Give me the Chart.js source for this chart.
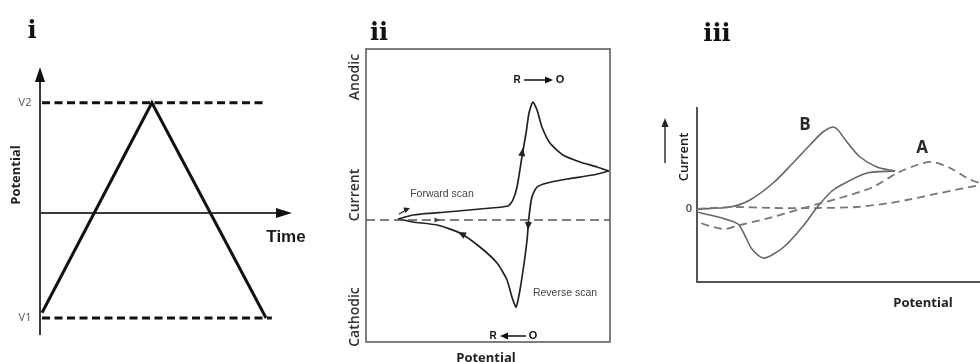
<!DOCTYPE html>
<html>
<head>
<meta charset="utf-8">
<script src="https://cdn.jsdelivr.net/npm/chart.js@4/dist/chart.umd.min.js"></script>
<style>
  html, body { margin: 0; padding: 0; background: #fff; width: 980px; height: 362px; overflow: hidden; }
  canvas { position: absolute; top: 0; }
</style>
</head>
<body>
<canvas id="chartI" width="320" height="362" style="left:0"></canvas>
<canvas id="chartII" width="330" height="362" style="left:320px"></canvas>
<canvas id="chartIII" width="330" height="362" style="left:650px"></canvas>
<script>
// panel i : triangular potential sweep
var sweepTime = [0.008, 0.444, 0.897];
var sweepPotential = [-0.95, 1.05, -1.0];
var limitLabels = ['V1', 'V2'];
var limitPotential = [-1.0, 1.05];
var limitStart = [0.008, 0.008];
var limitEnd = [0.92, 0.893];

// panel ii : cyclic voltammogram
var cvForwardPotential = [0.131, 0.193, 0.332, 0.467, 0.582, 0.602, 0.619, 0.639, 0.656, 0.668, 0.684, 0.701, 0.721, 0.754, 0.807, 0.877, 0.947, 0.996];
var cvForwardCurrent   = [0.01, 0.05, 0.08, 0.11, 0.14, 0.20, 0.33, 0.63, 0.87, 1.07, 1.18, 1.10, 0.93, 0.77, 0.65, 0.58, 0.53, 0.49];
var cvReversePotential = [0.996, 0.930, 0.824, 0.742, 0.701, 0.680, 0.668, 0.660, 0.648, 0.631, 0.615, 0.598, 0.578, 0.537, 0.467, 0.385, 0.291, 0.193, 0.131];
var cvReverseCurrent   = [0.49, 0.45, 0.41, 0.37, 0.33, 0.23, 0.03, -0.20, -0.43, -0.70, -0.87, -0.77, -0.60, -0.43, -0.27, -0.13, -0.05, -0.02, 0.01];
var baselinePotential = [0, 1];
var baselineCurrent = [0, 0];

// panel iii : curves A (dashed) and B (solid)
var bForwardPotential = [0, 0.117, 0.187, 0.269, 0.339, 0.399, 0.445, 0.481, 0.498, 0.530, 0.576, 0.636, 0.700];
var bForwardCurrent   = [0, 0.02, 0.09, 0.26, 0.46, 0.64, 0.77, 0.82, 0.79, 0.67, 0.52, 0.42, 0.38];
var bReversePotential = [0.700, 0.601, 0.530, 0.477, 0.428, 0.375, 0.311, 0.265, 0.233, 0.194, 0.170, 0.145, 0.099, 0.046, 0];
var bReverseCurrent   = [0.38, 0.36, 0.27, 0.18, 0.03, -0.17, -0.37, -0.46, -0.49, -0.40, -0.27, -0.15, -0.10, -0.06, -0.03];
var aForwardPotential = [0, 0.127, 0.269, 0.424, 0.565, 0.682, 0.742, 0.859, 1.0, 1.04];
var aForwardCurrent   = [0, 0.02, 0.01, 0.01, 0.02, 0.06, 0.09, 0.16, 0.24, 0.26];
var aReversePotential = [1.04, 1.0, 0.954, 0.894, 0.830, 0.777, 0.707, 0.622, 0.505, 0.389, 0.269, 0.152, 0.092, 0];
var aReverseCurrent   = [0.26, 0.26, 0.31, 0.41, 0.47, 0.44, 0.36, 0.22, 0.11, 0.02, -0.08, -0.16, -0.20, -0.13];

function pts(xs, ys) {
  return xs.map(function (x, i) { return { x: x, y: ys[i] }; });
}

function lineSet(data, color, width, dash, tension) {
  return {
    data: data, showLine: true, pointRadius: 0, borderColor: color,
    borderWidth: width, borderDash: dash || [], tension: tension || 0
  };
}

function baseOptions(padding, xRange, yRange) {
  return {
    responsive: false,
    animation: false,
    devicePixelRatio: 1,
    layout: { padding: padding },
    scales: {
      x: { type: 'linear', display: false, min: xRange[0], max: xRange[1] },
      y: { type: 'linear', display: false, min: yRange[0], max: yRange[1] }
    },
    plugins: { legend: { display: false }, tooltip: { enabled: false } }
  };
}

function seg(ctx, x1, y1, x2, y2) {
  ctx.beginPath(); ctx.moveTo(x1, y1); ctx.lineTo(x2, y2); ctx.stroke();
}

function arrowHead(ctx, x, y, angle, len, half, color) {
  ctx.save();
  ctx.translate(x, y); ctx.rotate(angle);
  ctx.fillStyle = color;
  ctx.beginPath(); ctx.moveTo(0, 0); ctx.lineTo(-len, -half); ctx.lineTo(-len, half); ctx.closePath();
  ctx.fill();
  ctx.restore();
}

function text(ctx, str, x, y, font, color, rot) {
  ctx.save();
  ctx.font = font; ctx.fillStyle = color;
  ctx.textAlign = 'center'; ctx.textBaseline = 'middle';
  ctx.translate(x, y);
  if (rot) ctx.rotate(rot);
  ctx.fillText(str, 0, 0);
  ctx.restore();
}

function panelLabel(ctx, str, x, y) {
  ctx.save();
  ctx.font = 'bold 24px "DejaVu Serif"'; ctx.fillStyle = '#111';
  ctx.textAlign = 'center'; ctx.textBaseline = 'alphabetic';
  ctx.fillText(str, x, y);
  ctx.restore();
}

// ---------- panel i ----------
var decorI = {
  id: 'decorI',
  beforeDatasetsDraw: function (chart) {
    var ctx = chart.ctx, a = chart.chartArea, x = chart.scales.x, y = chart.scales.y;
    var x0 = x.getPixelForValue(0), y0 = y.getPixelForValue(0);
    ctx.save();
    ctx.strokeStyle = '#3a3a3a'; ctx.lineWidth = 2;
    seg(ctx, x0, a.bottom, x0, a.top + 10);
    arrowHead(ctx, x0, a.top, -Math.PI / 2, 15, 5, '#111');
    seg(ctx, x0, y0, a.right - 10, y0);
    arrowHead(ctx, a.right, y0, 0, 16, 5, '#111');
    ctx.restore();
  },
  afterDraw: function (chart) {
    var ctx = chart.ctx, y = chart.scales.y;
    limitLabels.forEach(function (l, i) {
      text(ctx, l, 25, y.getPixelForValue(limitPotential[i]), '11px "Open Sans"', '#555');
    });
    text(ctx, 'Potential', 16, 175, 'bold 13px "Open Sans"', '#222', -Math.PI / 2);
    text(ctx, 'Time', 286, 237, 'bold 17px "Liberation Sans"', '#1a1a1a');
    panelLabel(ctx, 'i', 32, 38);
  }
};

var dsI = [lineSet(pts(sweepTime, sweepPotential), '#111', 3)];
limitPotential.forEach(function (v, i) {
  dsI.push(lineSet(pts([limitStart[i], limitEnd[i]], [v, v]), '#111', 3, [8, 4.5]));
});

new Chart(document.getElementById('chartI'), {
  type: 'scatter',
  data: { datasets: dsI },
  options: baseOptions({ left: 40, right: 28, top: 67, bottom: 27 }, [0, 1], [-1.162, 1.39]),
  plugins: [decorI]
});

// ---------- panel ii ----------
var decorII = {
  id: 'decorII',
  beforeDatasetsDraw: function (chart) {
    var ctx = chart.ctx, a = chart.chartArea;
    ctx.save();
    ctx.strokeStyle = '#555'; ctx.lineWidth = 1.5;
    ctx.strokeRect(a.left, a.top, a.right - a.left, a.bottom - a.top);
    ctx.restore();
  },
  afterDraw: function (chart) {
    var ctx = chart.ctx, x = chart.scales.x, y = chart.scales.y;
    var px = function (v) { return x.getPixelForValue(v); };
    var py = function (v) { return y.getPixelForValue(v); };
    // direction arrows on the curve
    arrowHead(ctx, px(0.643), py(0.72), -Math.PI / 2 + 0.15, 8, 3.5, '#222');
    arrowHead(ctx, px(0.664), py(-0.10), Math.PI / 2 + 0.05, 8, 3.5, '#222');
    arrowHead(ctx, px(0.377), py(-0.12), Math.atan2(-22, -43), 8, 3.5, '#222');
    ctx.save();
    ctx.strokeStyle = '#222'; ctx.lineWidth = 1.2;
    seg(ctx, px(0.135), py(0.06), px(0.165), py(0.10));
    ctx.restore();
    arrowHead(ctx, px(0.180), py(0.12), Math.atan2(-5, 12), 6, 3, '#222');
    arrowHead(ctx, px(0.305), py(0.0), 0, 6, 2.5, '#444');

    // R -> O and R <- O
    ctx.save();
    ctx.strokeStyle = '#111'; ctx.lineWidth = 1.5;
    text(ctx, 'R', 197, 80, 'bold 10px "Liberation Sans"', '#111');
    seg(ctx, 204, 80, 226, 80);
    arrowHead(ctx, 233, 80, 0, 8, 3.5, '#111');
    text(ctx, 'O', 240, 80, 'bold 11px "Liberation Sans"', '#111');
    text(ctx, 'R', 173, 336, 'bold 10px "Liberation Sans"', '#111');
    arrowHead(ctx, 180, 336, Math.PI, 8, 3.5, '#111');
    seg(ctx, 187, 336, 206, 336);
    text(ctx, 'O', 213, 336, 'bold 11px "Liberation Sans"', '#111');
    ctx.restore();

    text(ctx, 'Forward scan', 122, 194, '10.5px "Liberation Sans"', '#444');
    text(ctx, 'Reverse scan', 245, 293, '10.5px "Liberation Sans"', '#444');
    text(ctx, 'Anodic', 35, 77, '600 14px "Open Sans"', '#333', -Math.PI / 2);
    text(ctx, 'Current', 35, 195, '600 14px "Open Sans"', '#333', -Math.PI / 2);
    text(ctx, 'Cathodic', 35, 317, '600 14px "Open Sans"', '#333', -Math.PI / 2);
    text(ctx, 'Potential', 166, 358, 'bold 13px "Open Sans"', '#222');
    panelLabel(ctx, 'ii', 59, 40);
  }
};

new Chart(document.getElementById('chartII'), {
  type: 'scatter',
  data: {
    datasets: [
      lineSet(pts(baselinePotential, baselineCurrent), '#555', 1.5, [9, 5]),
      lineSet(pts(cvForwardPotential, cvForwardCurrent), '#222', 1.7, null, 0.2),
      lineSet(pts(cvReversePotential, cvReverseCurrent), '#222', 1.7, null, 0.2)
    ]
  },
  options: baseOptions({ left: 46, right: 40, top: 49, bottom: 20 }, [0, 1], [-1.22, 1.71]),
  plugins: [decorII]
});

// ---------- panel iii ----------
var decorIII = {
  id: 'decorIII',
  beforeDatasetsDraw: function (chart) {
    var ctx = chart.ctx, a = chart.chartArea;
    ctx.save();
    ctx.strokeStyle = '#555'; ctx.lineWidth = 2;
    ctx.beginPath();
    ctx.moveTo(a.left, a.top); ctx.lineTo(a.left, a.bottom); ctx.lineTo(a.right, a.bottom);
    ctx.stroke();
    ctx.strokeStyle = '#333'; ctx.lineWidth = 1.5;
    seg(ctx, 15, 163, 15, 125);
    arrowHead(ctx, 15, 118, -Math.PI / 2, 9, 3.5, '#222');
    ctx.restore();
  },
  afterDraw: function (chart) {
    var ctx = chart.ctx, y = chart.scales.y;
    text(ctx, 'Current', 34, 157, '600 13px "Open Sans"', '#222', -Math.PI / 2);
    text(ctx, '0', 39, y.getPixelForValue(0), '600 11px "Open Sans"', '#444');
    text(ctx, 'B', 155, 125, 'bold 17px "Open Sans"', '#2a2a2a');
    text(ctx, 'A', 272, 148, 'bold 17px "Open Sans"', '#2a2a2a');
    text(ctx, 'Potential', 273, 303, 'bold 13px "Open Sans"', '#222');
    panelLabel(ctx, 'iii', 67, 41);
  }
};

new Chart(document.getElementById('chartIII'), {
  type: 'scatter',
  data: {
    datasets: [
      lineSet(pts(aForwardPotential, aForwardCurrent), '#777', 1.8, [8, 5], 0.3),
      lineSet(pts(aReversePotential, aReverseCurrent), '#777', 1.8, [8, 5], 0.3),
      lineSet(pts(bForwardPotential, bForwardCurrent), '#666', 1.6, null, 0.3),
      lineSet(pts(bReversePotential, bReverseCurrent), '#666', 1.6, null, 0.3)
    ]
  },
  options: baseOptions({ left: 47, right: 0, top: 107, bottom: 80 }, [0, 1], [-0.73, 1.02]),
  plugins: [decorIII]
});
</script>
</body>
</html>
